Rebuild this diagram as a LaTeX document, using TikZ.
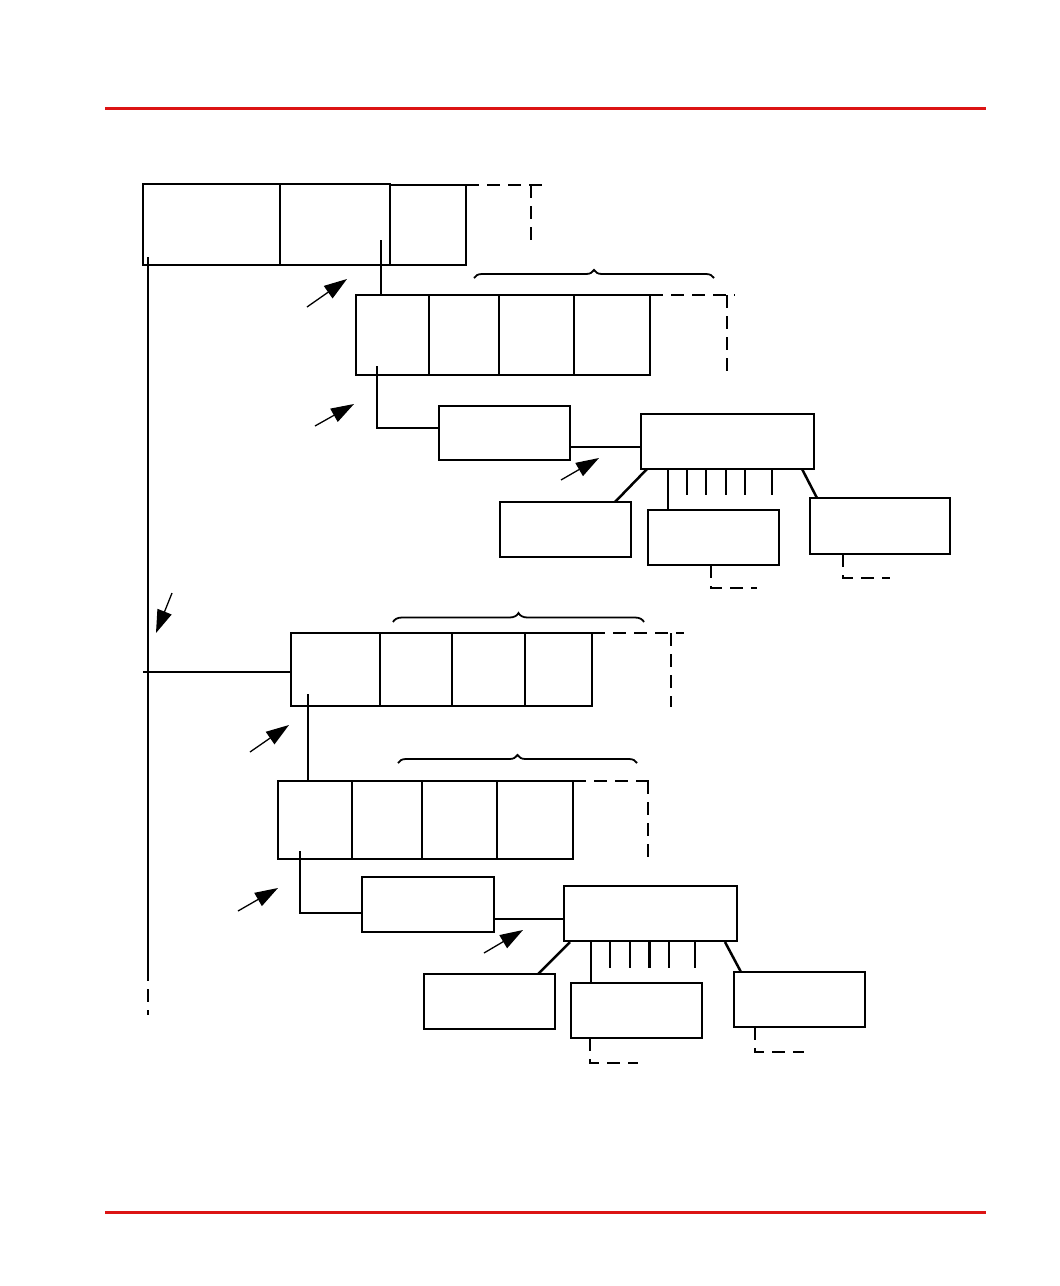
\documentclass[tikz,border=0pt]{standalone}
\usetikzlibrary{arrows.meta,calc,decorations.pathreplacing}
\definecolor{rulered}{RGB}{220,20,20}
\tikzset{
  box/.style={draw,line width=2.5pt,rectangle,inner sep=0pt,outer sep=0pt,anchor=north west},
  conn/.style={line width=2.5pt},
  thinconn/.style={line width=1.3pt},
  dashconn/.style={line width=2.5pt,dash pattern=on 13pt off 8pt},
  pointer/.style={line width=1.3pt,-{Triangle[length=23pt,width=15pt]}},
  bracestyle/.style={line width=1.8pt,decorate,decoration={brace,amplitude=#1}},
  redrule/.style={draw=rulered,line width=3pt}
}
\newcommand\mkbox[5]{\node[box,minimum width={(#4-#2)*1pt},minimum height={(#5-#3)*1pt}] (#1) at (#2,#3) {};}
\begin{document}
\begin{tikzpicture}[x=1pt,y=-1pt]
\useasboundingbox (0,0) rectangle (1060,1286);
% red rules
\coordinate (rtL) at (105,108.5); \coordinate (rtR) at (986,108.5);
\coordinate (rbL) at (105,1212); \coordinate (rbR) at (986,1212);
\draw[redrule] (rtL) -- (rtR);
\draw[redrule] (rbL) -- (rbR);

% row 1
\mkbox{c11}{143}{184}{280}{265}
\mkbox{c12}{280}{184}{390}{265}
\mkbox{c13}{390}{185}{466}{265}
% row 2
\mkbox{c21}{356}{295}{429}{375}
\mkbox{c22}{429}{295}{499}{375}
\mkbox{c23}{499}{295}{574}{375}
\mkbox{c24}{574}{295}{650}{375}
% first cluster
\mkbox{A}{439}{406}{570}{460}
\mkbox{B}{641}{414}{814}{469}
\mkbox{C}{500}{502}{631}{557}
\mkbox{D}{648}{510}{779}{565}
\mkbox{E}{810}{498}{950}{554}
% row 3
\mkbox{c31}{291}{633}{380}{706}
\mkbox{c32}{380}{633}{452}{706}
\mkbox{c33}{452}{633}{525}{706}
\mkbox{c34}{525}{633}{592}{706}
% row 4
\mkbox{c41}{278}{781}{352}{859}
\mkbox{c42}{352}{781}{422}{859}
\mkbox{c43}{422}{781}{497}{859}
\mkbox{c44}{497}{781}{573}{859}
% second cluster
\mkbox{F}{362}{877}{494}{932}
\mkbox{G}{564}{886}{737}{941}
\mkbox{H}{424}{974}{555}{1029}
\mkbox{I}{571}{983}{702}{1038}
\mkbox{J}{734}{972}{865}{1027}

% left bus
\coordinate (busTop) at (148,257);
\coordinate (busMid) at (148,968);
\coordinate (busEnd) at (148,1015);
\draw[conn] (busTop) -- (busMid);
\draw[dashconn] (busMid) -- (busEnd);
\coordinate (busJ) at (143,672);
\draw[thinconn] (busJ) -- (c31.west |- busJ);

% row1 -> row2
\coordinate (p1) at (381,240);
\draw[conn] (p1) -- (p1 |- c21.north);
% row1 dashed continuation
\coordinate (d1a) at (545,185); \coordinate (d1b) at (531,185); \coordinate (d1c) at (531,240);
\draw[dashconn] (c13.north east) -- (d1a);
\draw[dashconn] (d1b) -- (d1c);
% row2 dashed continuation
\coordinate (d2a) at (735,295); \coordinate (d2b) at (727,295); \coordinate (d2c) at (727,375);
\draw[dashconn] (c24.north east) -- (d2a);
\draw[dashconn] (d2b) -- (d2c);

% row2 -> A
\coordinate (p2) at (377,366);
\draw[conn] (p2) |- ($(A.north west)+(0,22)$);
% A -> B
\draw[conn] ($(A.north east)+(0,41)$) -- ($(B.north west)+(0,33)$);
% B -> C, D, E
\draw[conn] ($(B.south west)+(6,0)$) -- ($(C.north west)+(115,0)$);
\draw[thinconn] ($(B.south west)+(27,0)$) -- ($(D.north west)+(20,0)$);
\foreach \tx in {46,65,85,104,131}{
  \draw[conn] ($(B.south west)+(\tx,0)$) -- ++(0,26);
}
\draw[conn] ($(B.south east)+(-12,0)$) -- ($(E.north west)+(7,0)$);
% dashed from D and E
\coordinate (dD) at (757,588);
\draw[dashconn] ($(D.south west)+(63,0)$) |- (dD);
\coordinate (dE) at (890,578);
\draw[dashconn] ($(E.south west)+(33,0)$) |- (dE);

% row3 -> row4
\coordinate (p3) at (308,694);
\draw[conn] (p3) -- (p3 |- c41.north);
% row3 dashed
\coordinate (d3a) at (684,633); \coordinate (d3b) at (671,633); \coordinate (d3c) at (671,707);
\draw[dashconn] (c34.north east) -- (d3a);
\draw[dashconn] (d3b) -- (d3c);
% row4 dashed
\coordinate (d4a) at (654,781); \coordinate (d4b) at (648,781); \coordinate (d4c) at (648,860);
\draw[dashconn] (c44.north east) -- (d4a);
\draw[dashconn] (d4b) -- (d4c);

% row4 -> F
\coordinate (p4) at (300,851);
\draw[conn] (p4) |- ($(F.north west)+(0,36)$);
% F -> G
\draw[conn] ($(F.north east)+(0,42)$) -- ($(G.north west)+(0,33)$);
% G -> H, I, J
\draw[conn] ($(G.south west)+(6,1)$) -- ($(H.north west)+(114,0)$);
\draw[conn] ($(G.south west)+(27,0)$) -- ($(I.north west)+(20,0)$);
\foreach \tx in {46,66,85.5,105,131}{
  \draw[conn] ($(G.south west)+(\tx,0)$) -- ++(0,27);
}
\draw[conn] ($(G.south east)+(-12,1)$) -- ($(J.north west)+(7,0)$);
% dashed from I and J
\coordinate (dI) at (638,1063);
\draw[dashconn] ($(I.south west)+(19,0)$) |- (dI);
\coordinate (dJ) at (804,1052);
\draw[dashconn] ($(J.south west)+(21,0)$) |- (dJ);

% braces
\coordinate (b1a) at (474,278); \coordinate (b1b) at (714,278);
\draw[bracestyle=8pt] (b1a) -- (b1b);
\coordinate (b2a) at (393,622); \coordinate (b2b) at (644,622);
\draw[bracestyle=9pt] (b2a) -- (b2b);
\coordinate (b3a) at (398,763); \coordinate (b3b) at (637,763);
\draw[bracestyle=8pt] (b3a) -- (b3b);

% pointer arrows
\coordinate (a1s) at (307,307); \coordinate (a1e) at (347,279);
\coordinate (a2s) at (315,426); \coordinate (a2e) at (354,404);
\coordinate (a3s) at (561,480); \coordinate (a3e) at (599,458);
\coordinate (a4s) at (172,593); \coordinate (a4e) at (156,633);
\coordinate (a5s) at (250,752); \coordinate (a5e) at (289,725);
\coordinate (a6s) at (238,911); \coordinate (a6e) at (278,888);
\coordinate (a7s) at (484,953); \coordinate (a7e) at (523,930);
\foreach \n in {1,...,7}{
  \draw[pointer] (a\n s) -- (a\n e);
}
\end{tikzpicture}
\end{document}
